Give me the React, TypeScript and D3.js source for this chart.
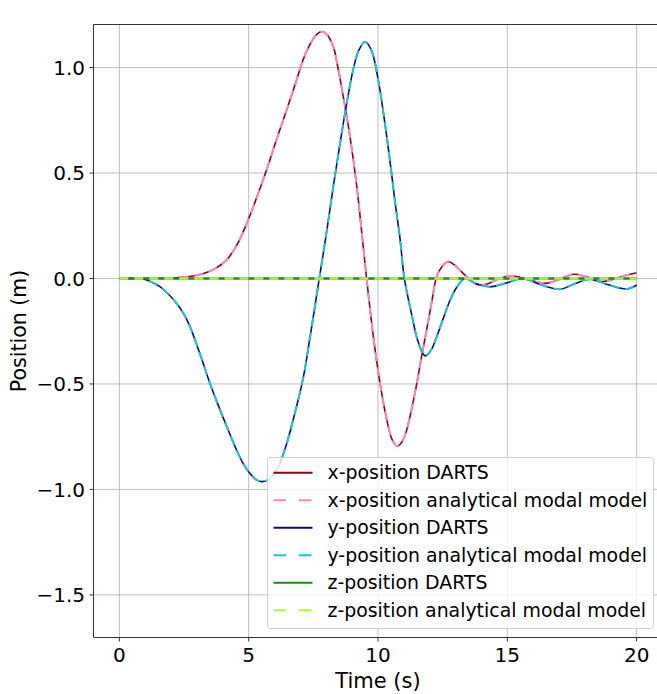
import React from "react";
import * as d3 from "d3";

const xTicks = [0, 5, 10, 15, 20];
const yTicks = [-1.5, -1.0, -0.5, 0.0, 0.5, 1.0];

const xTimes = [0, 1, 2, 2.6, 3.0, 3.37, 3.75, 4.15, 4.55, 4.98, 5.3, 5.69, 6.08, 6.47, 6.85, 7.1, 7.37, 7.6, 7.8, 8.0, 8.27, 8.45, 8.66, 8.92, 9.18, 9.43, 9.56, 9.82, 10.08, 10.34, 10.55, 10.75, 10.95, 11.11, 11.3, 11.5, 11.7, 11.88, 12.08, 12.27, 12.5, 12.72, 12.95, 13.2, 13.43, 13.7, 13.95, 14.25, 14.6, 15.1, 15.5, 16.0, 16.5, 17.0, 17.55, 18.0, 18.6, 19.2, 19.6, 20];
const xValues = [0, 0, 0.002, 0.008, 0.015, 0.028, 0.05, 0.088, 0.16, 0.277, 0.38, 0.514, 0.66, 0.8, 0.94, 1.035, 1.11, 1.153, 1.17, 1.16, 1.1, 1.0, 0.86, 0.67, 0.435, 0.15, 0.0, -0.276, -0.497, -0.67, -0.765, -0.795, -0.77, -0.718, -0.62, -0.497, -0.36, -0.244, -0.11, 0.009, 0.06, 0.08, 0.065, 0.035, 0.009, -0.02, -0.031, -0.025, -0.005, 0.013, 0.005, -0.012, -0.023, -0.005, 0.02, 0.01, -0.015, 0.0, 0.015, 0.027];

const yTimes = [0, 0.67, 1.0, 1.3, 1.57, 1.9, 2.21, 2.5, 2.73, 3.11, 3.5, 3.75, 4.02, 4.53, 4.8, 5.05, 5.3, 5.5, 5.75, 6.08, 6.4, 6.72, 7.11, 7.37, 7.73, 8.0, 8.27, 8.5, 8.72, 9.04, 9.25, 9.5, 9.75, 10.01, 10.25, 10.46, 10.65, 10.85, 11.02, 11.3, 11.55, 11.82, 12.05, 12.27, 12.55, 12.79, 13.05, 13.37, 13.8, 14.33, 15.0, 15.62, 16.3, 17.04, 17.6, 18.2, 18.9, 19.62, 20];
const yValues = [0, 0, -0.005, -0.02, -0.039, -0.075, -0.118, -0.17, -0.228, -0.355, -0.497, -0.578, -0.662, -0.813, -0.88, -0.925, -0.955, -0.963, -0.955, -0.908, -0.81, -0.67, -0.47, -0.28, 0, 0.21, 0.435, 0.615, 0.78, 0.99, 1.08, 1.122, 1.08, 0.94, 0.75, 0.56, 0.37, 0.19, 0, -0.17, -0.3, -0.367, -0.34, -0.276, -0.18, -0.102, -0.04, 0, -0.025, -0.039, -0.02, 0, -0.03, -0.051, -0.025, -0.004, -0.03, -0.05, -0.031];

const zTimes = [0, 5, 10, 15, 20];
const zValues = [0, 0, 0, 0, 0];

const seriesNames = [
  "x-position DARTS",
  "x-position analytical modal model",
  "y-position DARTS",
  "y-position analytical modal model",
  "z-position DARTS",
  "z-position analytical modal model",
];
const seriesColors = ["#8f0016", "#ff85c0", "#0a0a85", "#22c3d0", "#1a8a1a", "#adff2f"];
const seriesDashed = [false, true, false, true, false, true];

const W = 657;
const H = 694;
const left = 93.5;
const right = 662.5;
const top = 24.5;
const bottom = 637.5;

export default function App() {
  const x = d3.scaleLinear().domain([-1, 21]).range([left, right]);
  const y = d3.scaleLinear().domain([-1.702, 1.204]).range([bottom, top]);

  const mk = (ts: number[], vs: number[]) => ts.map((t, i) => [t, vs[i]] as [number, number]);
  const data = [
    mk(xTimes, xValues),
    mk(xTimes, xValues),
    mk(yTimes, yValues),
    mk(yTimes, yValues),
    mk(zTimes, zValues),
    mk(zTimes, zValues),
  ];
  const line = d3
    .line<[number, number]>()
    .x((d) => x(d[0]))
    .y((d) => y(d[1]))
    .curve(d3.curveCatmullRom.alpha(0.5));

  const font = "DejaVu Sans, sans-serif";
  const legX = 267.5;
  const legY = 457.5;
  const legW = 386;
  const legH = 171;
  const rowStep = 27.5;
  const row0 = 472.7;

  return (
    <svg
      width={W}
      height={H}
      style={{ position: "absolute", left: 0, top: 0, display: "block", background: "#fff" }}
      fontFamily={font}
    >
      <defs>
        <clipPath id="plotclip">
          <rect x={left} y={top} width={right - left} height={bottom - top} />
        </clipPath>
      </defs>
      <rect x={0} y={0} width={W} height={H} fill="#fff" />
      {xTicks.map((t) => (
        <line key={"gx" + t} x1={x(t)} x2={x(t)} y1={top} y2={bottom} stroke="#b0b0b0" strokeWidth={0.8} />
      ))}
      {yTicks.map((t) => (
        <line key={"gy" + t} x1={left} x2={right} y1={y(t)} y2={y(t)} stroke="#b0b0b0" strokeWidth={0.8} />
      ))}
      <g clipPath="url(#plotclip)">
        {data.map((d, i) => (
          <path
            key={"s" + i}
            d={line(d) || ""}
            fill="none"
            stroke={seriesColors[i]}
            strokeWidth={i >= 4 ? 2.4 : seriesDashed[i] ? 2 : 1.6}
            strokeDasharray={seriesDashed[i] ? "9,6" : undefined}
          />
        ))}
      </g>
      <line x1={left} x2={left} y1={top} y2={bottom} stroke="#333" strokeWidth={1} />
      <line x1={left} x2={right} y1={top} y2={top} stroke="#333" strokeWidth={1} />
      <line x1={left} x2={right} y1={bottom} y2={bottom} stroke="#333" strokeWidth={1} />
      {xTicks.map((t) => (
        <g key={"tx" + t}>
          <line x1={x(t)} x2={x(t)} y1={bottom} y2={bottom + 4} stroke="#333" strokeWidth={1} />
          <text x={x(t)} y={661.5} textAnchor="middle" fontSize={20} fill="#000">
            {String(t)}
          </text>
        </g>
      ))}
      {yTicks.map((t) => (
        <g key={"ty" + t}>
          <line x1={left - 4} x2={left} y1={y(t)} y2={y(t)} stroke="#333" strokeWidth={1} />
          <text x={85} y={y(t) + 7.2} textAnchor="end" fontSize={20} fill="#000">
            {(t < 0 ? "\u2212" : "") + Math.abs(t).toFixed(1)}
          </text>
        </g>
      ))}
      <text x={(left + right) / 2} y={688} textAnchor="middle" fontSize={21} fill="#000">
        Time (s)
      </text>
      <text
        transform={`translate(${26},${(top + bottom) / 2}) rotate(-90)`}
        textAnchor="middle"
        fontSize={20.5}
        fill="#000"
      >
        Position (m)
      </text>
      <rect
        x={legX}
        y={legY}
        width={legW}
        height={legH}
        rx={3}
        ry={3}
        fill="#fff"
        fillOpacity={0.8}
        stroke="#d0d0d0"
        strokeWidth={1}
      />
      {seriesNames.map((n, i) => {
        const cy = row0 + i * rowStep;
        return (
          <g key={"l" + i}>
            <line
              x1={273.5}
              x2={312.5}
              y1={cy}
              y2={cy}
              stroke={seriesColors[i]}
              strokeWidth={2}
              strokeDasharray={seriesDashed[i] ? "12.5,13" : undefined}
            />
            <text x={327.5} y={cy + 6.4} fontSize={18.9} fill="#000">
              {n}
            </text>
          </g>
        );
      })}
    </svg>
  );
}
